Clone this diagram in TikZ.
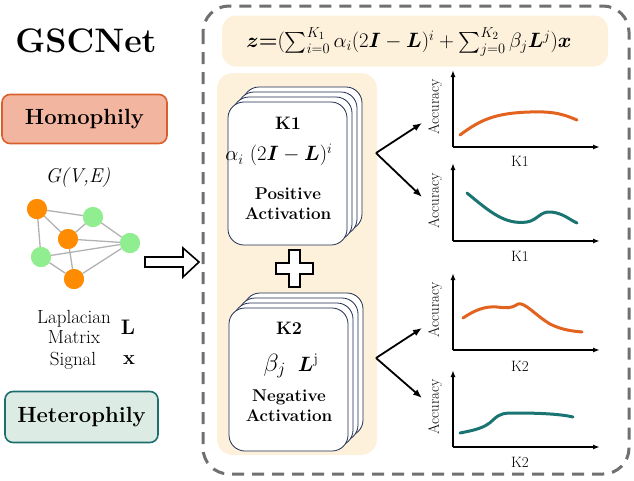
\documentclass[tikz,border=0pt]{standalone}
\usepackage{amsmath,bm}
\usetikzlibrary{arrows.meta}
\definecolor{homfill}{HTML}{F2B5A0}
\definecolor{homdraw}{HTML}{D9602A}
\definecolor{hetfill}{HTML}{DCECE4}
\definecolor{hetdraw}{HTML}{1C6F6E}
\definecolor{beige}{HTML}{FDF1DC}
\definecolor{corange}{HTML}{E2621F}
\definecolor{cteal}{HTML}{1A7572}
\definecolor{dashgray}{HTML}{707070}
\definecolor{cardc}{HTML}{1F2D4F}
\definecolor{gnode}{HTML}{90EE90}
\definecolor{onode}{HTML}{FF8C00}
\newcommand{\fs}[1]{\fontsize{#1}{#1}\selectfont}
\tikzset{
  labelbox/.style={rounded corners=8pt, line width=1.6pt, minimum width=#1, minimum height=49pt, font=\fs{22}\bfseries},
  card/.style={draw=cardc, fill=white, rounded corners=16pt, line width=0.8pt, minimum width=119pt, minimum height=143pt, inner sep=0pt},
  onodes/.style={circle, fill=onode, minimum size=20pt, inner sep=0pt},
  gnodes/.style={circle, fill=gnode, minimum size=20pt, inner sep=0pt},
  gedge/.style={draw=black!30, line width=1.3pt},
  axis/.style={-{Latex[length=7pt,width=5pt]}, line width=1.4pt},
  curve/.style={line width=3pt, line cap=round},
  accl/.style={rotate=90, font=\fs{15}},
  kl/.style={font=\fs{15}},
  pick/.style={-{Latex[length=9pt,width=7pt]}, line width=1.8pt},
}
\begin{document}
\begin{tikzpicture}[x=1pt,y=-1pt]
\useasboundingbox (0,0) rectangle (634,480);
% left
\node[font=\fs{34}\bfseries] (title) at (86,41) {GSCNet};
\node[labelbox=165pt, fill=homfill, draw=homdraw] (hom) at (84.5,119) {Homophily};
\node[labelbox=153pt, fill=hetfill, draw=hetdraw, minimum height=51pt] (het) at (81.5,417) {Heterophily};
\node[font=\fs{20}\itshape] (gve) at (78,178) {G(V,E)};
\node[onodes] (o1) at (37,209) {};
\node[gnodes] (g1) at (93,217) {};
\node[onodes] (o2) at (68,239) {};
\node[gnodes] (g2) at (130,243) {};
\node[gnodes] (g3) at (41,257) {};
\node[onodes] (o3) at (74,279) {};
\draw[gedge] (o1) -- (g1) (o1) -- (o2) (o1) -- (g3) (o2) -- (g1) (o2) -- (g2) (o2) -- (o3) (g1) -- (g2) (g3) -- (g2) (g3) -- (o3) (o3) -- (g2);
\foreach \n in {o1,o2,o3} \node[onodes] at (\n) {};
\foreach \n in {g1,g2,g3} \node[gnodes] at (\n) {};
\node[font=\fs{19}, align=center, inner sep=0pt] (lap) at (74,327) {Laplacian\\[1pt]Matrix};
\node[font=\fs{21}\bfseries] (lsym) at (128,327) {L};
\node[font=\fs{19}] (sig) at (73,361) {Signal};
\node[font=\fs{20}\bfseries] (xsym) at (129,360) {x};
\draw[line width=1.6pt, fill=white] (145,257) -- (183,257) -- (183,248) -- (199,262) -- (183,277) -- (183,267) -- (145,267) -- cycle;
% dashed frame
\draw[dashgray, line width=3pt, dash pattern=on 12pt off 8pt, rounded corners=26pt] (203,6) rectangle (629,474);
% formula box
\node[fill=beige, rounded corners=14pt, minimum width=386pt, minimum height=51pt] (fbox) at (415,41) {};
\node[font=\fs{21.5}] (form) at (409,42) {$\boldsymbol{z}$\textbf{=}$(\textstyle\sum_{i=0}^{K_1}\alpha_i(2\bm{I}-\bm{L})^i+\sum_{j=0}^{K_2}\beta_j\bm{L}^j)\bm{x}$};
% panel
\node[fill=beige, rounded corners=16pt, minimum width=160pt, minimum height=382pt] (panel) at (297,264) {};
% K1 stack
\foreach \k in {3,2,1} \node[card] at (287.5+5*\k,173.5-5*\k) {};
\node[card] (k1) at (287.5,173.5) {};
\node[font=\fs{18}\bfseries] (k1t) at (288,123) {K1};
\node[font=\fs{20}] (k1f) at (279,155) {$\alpha_i\ (2\bm{I}-\bm{L})^i$};
\node[font=\fs{17}\bfseries, align=center, inner sep=0pt] (k1a) at (288,204) {Positive\\[3pt]Activation};
% plus
\draw[line width=2pt, fill=white] (289,250) -- (300,250) -- (300,263) -- (313,263) -- (313,274) -- (300,274) -- (300,287) -- (289,287) -- (289,274) -- (276,274) -- (276,263) -- (289,263) -- cycle;
% K2 stack
\foreach \k in {3,2,1} \node[card] at (288.5+5*\k,379.5-5*\k) {};
\node[card] (k2) at (288.5,379.5) {};
\node[font=\fs{18}\bfseries] (k2t) at (289,328) {K2};
\node[font=\fs{20}] (k2f) at (291,366) {$\text{\fs{27}$\beta_j$}\ \ \bm{L}^{\mathrm{j}}$};
\node[font=\fs{17}\bfseries, align=center, inner sep=0pt] (k2a) at (289,406) {Negative\\[3pt]Activation};
% selector arrows
\coordinate (v1) at (376,153);
\coordinate (t1) at (422,123);
\coordinate (t2) at (422,197);
\draw[pick] (v1) -- (t1);
\draw[pick] (v1) -- (t2);
\coordinate (v2) at (376,358);
\coordinate (t3) at (422,328);
\coordinate (t4) at (422,398);
\draw[pick] (v2) -- (t3);
\draw[pick] (v2) -- (t4);
% plot 1
\coordinate (p1o) at (453,147);
\coordinate (p1y) at (453,70);
\coordinate (p1x) at (600,147);
\draw[axis] (p1o) -- (p1y);
\draw[axis] (p1o) -- (p1x);
\node[accl] (a1) at (435,107) {Accuracy};
\node[kl] (x1) at (520,161) {K1};
\draw[curve, corange] (460,135) .. controls (480,120) and (495,113) .. (530,112) .. controls (555,111) and (565,115) .. (577,120);
% plot 2
\coordinate (p2o) at (453,241);
\coordinate (p2y) at (453,163);
\coordinate (p2x) at (600,241);
\draw[axis] (p2o) -- (p2y);
\draw[axis] (p2o) -- (p2x);
\node[accl] (a2) at (435,201) {Accuracy};
\node[kl] (x2) at (520,256) {K1};
\draw[curve, cteal] (467,193) .. controls (490,212) and (505,225) .. (527,222) .. controls (538,220) and (540,211) .. (551,212) .. controls (563,213) and (570,220) .. (577,223);
% plot 3
\coordinate (p3o) at (453,350);
\coordinate (p3y) at (453,273);
\coordinate (p3x) at (600,350);
\draw[axis] (p3o) -- (p3y);
\draw[axis] (p3o) -- (p3x);
\node[accl] (a3) at (435,310) {Accuracy};
\node[kl] (x3) at (520,366) {K2};
\draw[curve, corange] (463,318) .. controls (475,310) and (485,306) .. (497,307) .. controls (507,308) and (510,309) .. (518,304) .. controls (525,302) and (535,315) .. (550,324) .. controls (562,330) and (572,331) .. (582,332);
% plot 4
\coordinate (p4o) at (453,447);
\coordinate (p4y) at (453,370);
\coordinate (p4x) at (600,447);
\draw[axis] (p4o) -- (p4y);
\draw[axis] (p4o) -- (p4x);
\node[accl] (a4) at (435,407) {Accuracy};
\node[kl] (x4) at (520,462) {K2};
\draw[curve, cteal] (460,433) .. controls (475,430) and (485,428) .. (493,420) .. controls (500,413) and (505,413) .. (515,413) .. controls (540,413) and (560,414) .. (573,417);
\end{tikzpicture}
\end{document}
